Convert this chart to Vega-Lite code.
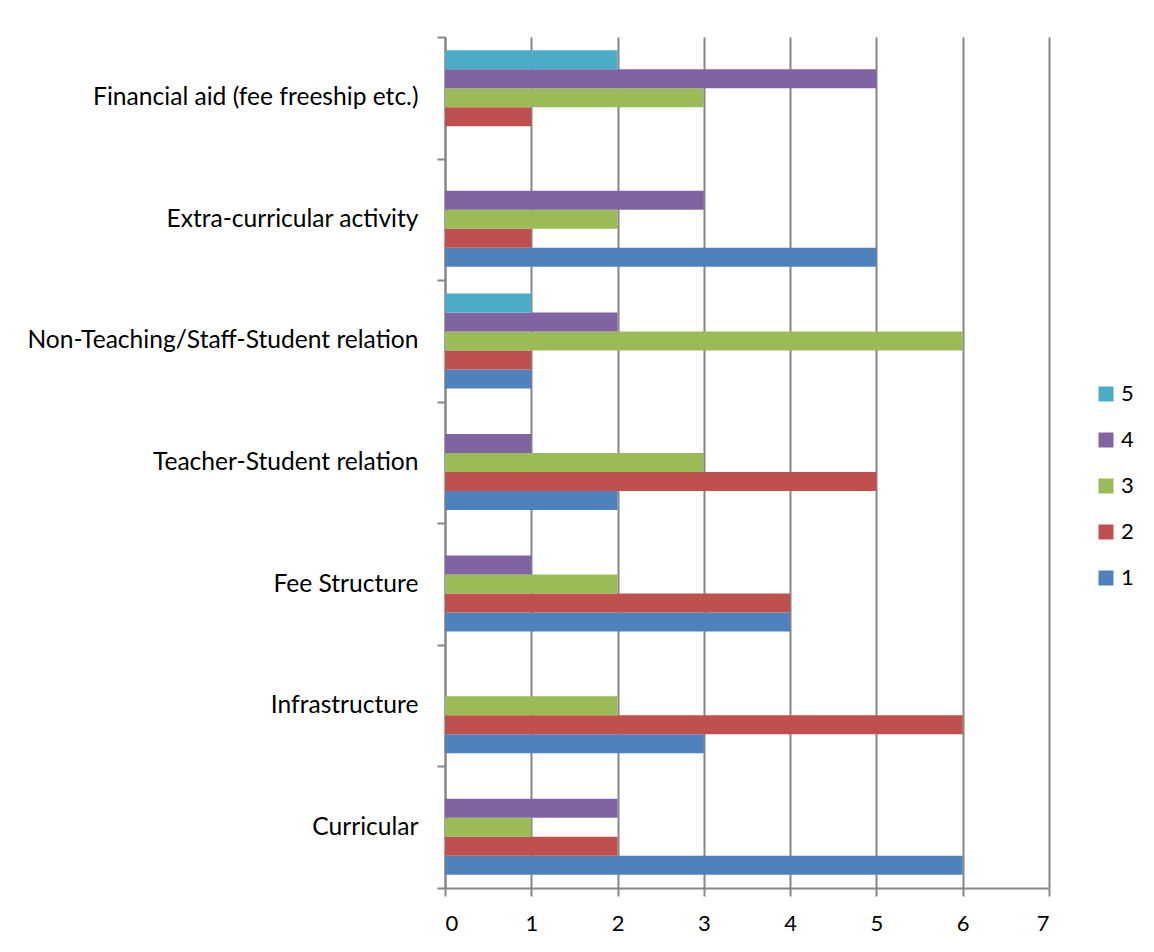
{
  "$schema": "https://vega.github.io/schema/vega-lite/v6.json",
  "width": 604,
  "height": 851,
  "autosize": {"type": "none"},
  "padding": {"left": 445, "top": 37, "right": 105, "bottom": 64},
  "background": "white",
  "config": {
    "view": {"stroke": null},
    "font": "Lato"
  },
  "data": {
    "values": [
      {"category": "Curricular", "series": "1", "value": 6},
      {"category": "Curricular", "series": "2", "value": 2},
      {"category": "Curricular", "series": "3", "value": 1},
      {"category": "Curricular", "series": "4", "value": 2},
      {"category": "Infrastructure", "series": "1", "value": 3},
      {"category": "Infrastructure", "series": "2", "value": 6},
      {"category": "Infrastructure", "series": "3", "value": 2},
      {"category": "Fee Structure", "series": "1", "value": 4},
      {"category": "Fee Structure", "series": "2", "value": 4},
      {"category": "Fee Structure", "series": "3", "value": 2},
      {"category": "Fee Structure", "series": "4", "value": 1},
      {"category": "Teacher-Student relation", "series": "1", "value": 2},
      {"category": "Teacher-Student relation", "series": "2", "value": 5},
      {"category": "Teacher-Student relation", "series": "3", "value": 3},
      {"category": "Teacher-Student relation", "series": "4", "value": 1},
      {"category": "Non-Teaching/Staff-Student relation", "series": "1", "value": 1},
      {"category": "Non-Teaching/Staff-Student relation", "series": "2", "value": 1},
      {"category": "Non-Teaching/Staff-Student relation", "series": "3", "value": 6},
      {"category": "Non-Teaching/Staff-Student relation", "series": "4", "value": 2},
      {"category": "Non-Teaching/Staff-Student relation", "series": "5", "value": 1},
      {"category": "Extra-curricular activity", "series": "1", "value": 5},
      {"category": "Extra-curricular activity", "series": "2", "value": 1},
      {"category": "Extra-curricular activity", "series": "3", "value": 2},
      {"category": "Extra-curricular activity", "series": "4", "value": 3},
      {"category": "Financial aid (fee freeship etc.)", "series": "2", "value": 1},
      {"category": "Financial aid (fee freeship etc.)", "series": "3", "value": 3},
      {"category": "Financial aid (fee freeship etc.)", "series": "4", "value": 5},
      {"category": "Financial aid (fee freeship etc.)", "series": "5", "value": 2}
    ]
  },
  "mark": {"type": "bar"},
  "encoding": {
    "y": {
      "field": "category",
      "type": "nominal",
      "sort": ["Financial aid (fee freeship etc.)", "Extra-curricular activity", "Non-Teaching/Staff-Student relation", "Teacher-Student relation", "Fee Structure", "Infrastructure", "Curricular"],
      "scale": {"paddingInner": 0, "paddingOuter": 0},
      "axis": {
        "title": null,
        "tickBand": "extent",
        "tickSize": 8,
        "tickColor": "#868686",
        "tickWidth": 2,
        "domainColor": "#868686",
        "domainWidth": 2,
        "labelFontSize": 24.6,
        "labelColor": "#000000",
        "labelPadding": 19,
        "labelLimit": 500
      }
    },
    "yOffset": {
      "field": "series",
      "type": "nominal",
      "scale": {"domain": ["5", "4", "3", "2", "1"], "paddingInner": 0, "paddingOuter": 0.7}
    },
    "x": {
      "field": "value",
      "type": "quantitative",
      "scale": {"domain": [0, 7], "nice": false},
      "axis": {
        "title": null,
        "values": [0, 1, 2, 3, 4, 5, 6, 7],
        "grid": true,
        "gridColor": "#868686",
        "gridWidth": 2,
        "tickSize": 8,
        "tickColor": "#868686",
        "tickWidth": 2,
        "domainColor": "#868686",
        "domainWidth": 2,
        "labelFontSize": 22,
        "labelColor": "#000000",
        "labelPadding": 17
      }
    },
    "color": {
      "field": "series",
      "type": "nominal",
      "scale": {"domain": ["5", "4", "3", "2", "1"], "range": ["#4BACC6", "#8064A2", "#9BBB59", "#C0504D", "#4F81BD"]},
      "legend": {
        "title": null,
        "orient": "none",
        "legendX": 650,
        "legendY": 346,
        "padding": 0,
        "symbolType": "square",
        "symbolSize": 225,
        "symbolStrokeWidth": 0,
        "labelFontSize": 22,
        "labelColor": "#000000",
        "labelOffset": 4,
        "rowPadding": 24
      }
    }
  }
}
